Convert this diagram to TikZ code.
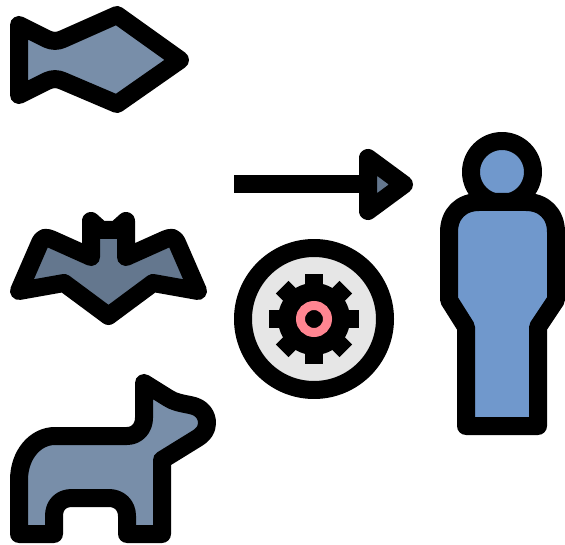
\documentclass[tikz,border=0pt]{standalone}
\definecolor{fishblue}{HTML}{788EA9}
\definecolor{batblue}{HTML}{64778E}
\definecolor{personblue}{HTML}{7098CC}
\definecolor{gearbg}{HTML}{E6E6E6}
\definecolor{ringpink}{HTML}{FF8591}
\tikzset{
  icon/.style={draw=black,line width=18pt,line join=round,line cap=round},
  tooth/.style={fill=black,draw=none}
}
\begin{document}
\begin{tikzpicture}[x=1pt,y=-1pt]
\useasboundingbox (0,0) rectangle (565,545);
% fish
\path[icon,fill=fishblue] (19,25) -- (47,39) .. controls (52,41.5) and (58,41.5) .. (63,39)
  -- (117,15) -- (180,60) -- (117,104) -- (63,81)
  .. controls (58,78.5) and (52,78.5) .. (47,81) -- (19,95) -- cycle;
% bat
\path[icon,fill=batblue] (19,291) -- (39,245) .. controls (42.5,236) and (46,237) .. (52,239.5)
  -- (91,257) -- (91,221) -- (101,230) -- (116,230) -- (126,221)
  -- (126,257) -- (165,239.5) .. controls (171,237) and (174.5,236) .. (178,245)
  -- (198,291) -- (153,283) -- (108.5,316) -- (64,283) -- cycle;
% dog
\path[icon,fill=fishblue] (144,383) -- (168,398) .. controls (174,402) and (180,403) .. (190,405)
  .. controls (202,407) and (207,415) .. (207,423)
  .. controls (207,430) and (203,435) .. (196,439)
  -- (162,460) -- (162,534) -- (127,534) -- (127,516)
  .. controls (127,505) and (119,498) .. (109,498)
  -- (72,498) .. controls (61,498) and (54,505) .. (54,516)
  -- (54,534) -- (19,534) -- (19,480)
  .. controls (19,455) and (35,436) .. (55,436)
  -- (127,436) .. controls (137,436) and (144,428) .. (144,418) -- cycle;
% arrow
\coordinate (arrowstart) at (234,184.5);
\coordinate (arrowend) at (368,184.5);
\draw[black,line width=18pt] (arrowstart) -- (arrowend);
\path[icon,fill=batblue] (368,158) -- (404,184.5) -- (368,211) -- cycle;
% gear dial
\path[icon,fill=gearbg,line cap=butt] (314,319) circle[radius=71pt];
\fill[black] (314,319) circle[radius=36pt];
\foreach \a in {0,45,...,315}
  \fill[tooth,rotate around={\a:(314,319)}] (305,274) rectangle (323,300);
\draw[ringpink,line width=9pt] (314,319) circle[radius=13.5pt];
% person
\path[icon,fill=personblue] (502,172) circle[radius=31pt];
\path[icon,fill=personblue] (449,300) -- (449,232) .. controls (449,214) and (461,202) .. (479,202)
  -- (526,202) .. controls (544,202) and (556,214) .. (556,232)
  -- (556,300) -- (538,327) -- (538,426) -- (466,426) -- (466,327) -- cycle;
\end{tikzpicture}
\end{document}
